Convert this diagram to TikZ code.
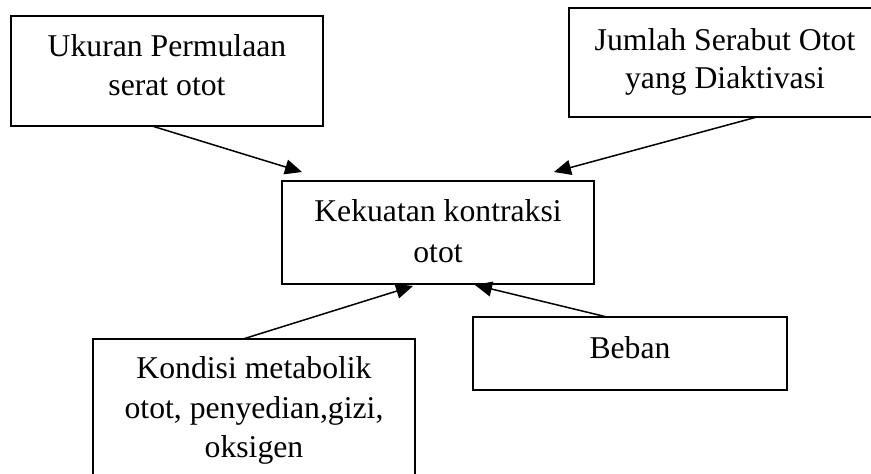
\documentclass[tikz,border=0pt]{standalone}
\usepackage{fontspec}
\setmainfont{Liberation Serif}
\usetikzlibrary{arrows.meta}

\begin{document}
\begin{tikzpicture}[x=1pt, y=-1pt,
  box/.style={draw=black, line width=1.5pt, fill=none, inner sep=0pt, outer sep=0pt},
  txt/.style={align=center, inner sep=0pt, anchor=north},
  link/.style={line width=1.5pt, -{Triangle[length=17pt,width=15pt]}}
]
  \useasboundingbox (0,0) rectangle (871,474);

  % boxes
  \node[box, minimum width=312pt, minimum height=110pt] (u) at (167,71) {};
  \node[box, minimum width=312pt, minimum height=109pt] (j) at (725,62.5) {};
  \node[box, minimum width=312pt, minimum height=103pt] (k) at (438,232.5) {};
  \node[box, minimum width=322pt, minimum height=140pt] (m) at (254,409) {};
  \node[box, minimum width=314pt, minimum height=73pt]  (b) at (630,353.5) {};

  % labels
  \node[txt, font=\fontsize{31.7}{39}\selectfont] (tu) at (167,34.3) {Ukuran Permulaan\\serat otot};
  \node[txt, font=\fontsize{31.7}{38}\selectfont] (tj) at (725,28.3) {Jumlah Serabut Otot\\yang Diaktivasi};
  \node[txt, font=\fontsize{31.7}{41}\selectfont] (tk) at (438,199.3) {Kekuatan kontraksi\\otot};
  \node[txt, font=\fontsize{31.7}{39.5}\selectfont] (tm) at (254,356.3) {Kondisi metabolik\\otot, penyedian,gizi,\\oksigen};
  \node[txt, font=\fontsize{31.7}{38}\selectfont] (tb) at (630,336.3) {Beban};

  % connectors into the central box
  \draw[link] ([xshift=141pt]u.south west) -- ([xshift=20pt,yshift=9pt]k.north west);
  \draw[link] ([xshift=188pt]j.south west) -- ([xshift=-40pt,yshift=9pt]k.north east);
  \draw[link] ([xshift=150pt]m.north west) -- ([xshift=131pt,yshift=-2pt]k.south west);
  \draw[link] ([xshift=134pt]b.north west) -- ([xshift=193pt,yshift=-1pt]k.south west);
\end{tikzpicture}
\end{document}
